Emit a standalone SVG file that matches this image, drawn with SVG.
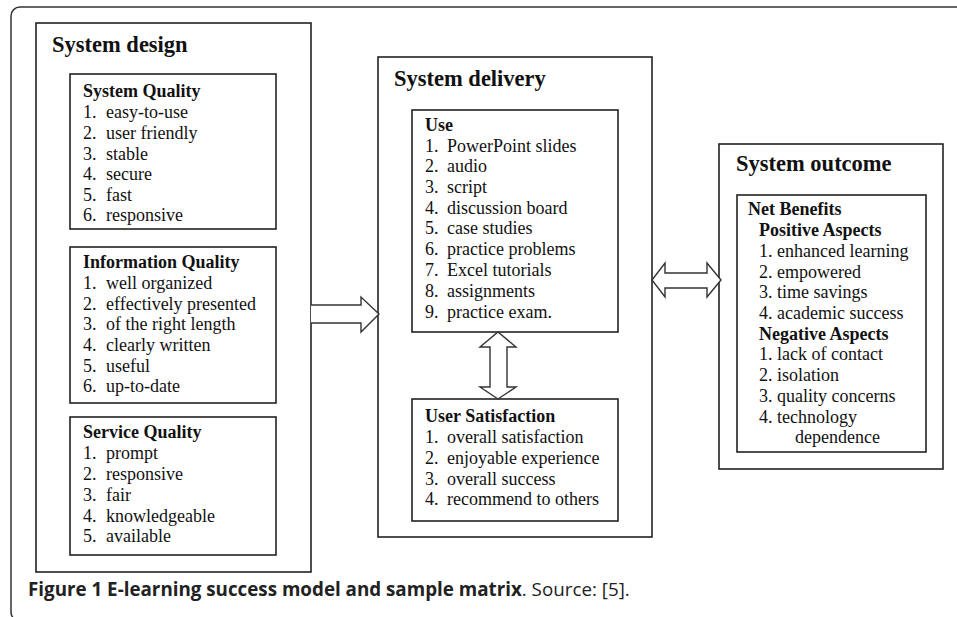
<svg xmlns="http://www.w3.org/2000/svg" width="957" height="617" viewBox="0 0 957 617">
<style>
.box{fill:#fff;stroke:#222;stroke-width:1.6}
.arr{fill:#fff;stroke:#333;stroke-width:1.4;stroke-linejoin:miter}
.t{font-family:"Liberation Serif","Tinos","Times New Roman","DejaVu Serif",serif;font-size:18px;font-weight:400;font-style:normal;fill:#111}
.h{font-family:"Liberation Serif","Tinos","Times New Roman",serif;font-size:18px;font-weight:bold;fill:#111}
.ti{font-family:"Liberation Serif","Tinos","Times New Roman",serif;font-size:22.5px;font-weight:bold;fill:#111}
.cap{font-family:"Open Sans","Noto Sans",sans-serif;font-size:18.8px;fill:#222}
</style>
<rect x="11" y="7" width="960" height="614" rx="9" fill="#fff" stroke="#333" stroke-width="1.5"/>

<g id="system-design">
<rect class="box" x="36" y="23" width="275" height="549"/>
<text class="ti" x="52" y="52">System design</text>
</g>

<g id="system-quality">
<rect class="box" x="70" y="74" width="206" height="155"/>
<text class="h" x="83" y="97">System Quality</text>
<text class="t" x="83" y="118">1.</text><text class="t" x="106" y="118">easy-to-use</text>
<text class="t" x="83" y="139">2.</text><text class="t" x="106" y="139">user friendly</text>
<text class="t" x="83" y="160">3.</text><text class="t" x="106" y="160">stable</text>
<text class="t" x="83" y="180">4.</text><text class="t" x="106" y="180">secure</text>
<text class="t" x="83" y="201">5.</text><text class="t" x="106" y="201">fast</text>
<text class="t" x="83" y="221">6.</text><text class="t" x="106" y="221">responsive</text>
</g>

<g id="information-quality">
<rect class="box" x="70" y="247" width="206" height="156"/>
<text class="h" x="83" y="268">Information Quality</text>
<text class="t" x="83" y="289">1.</text><text class="t" x="106" y="289">well organized</text>
<text class="t" x="83" y="310">2.</text><text class="t" x="106" y="310">effectively presented</text>
<text class="t" x="83" y="330">3.</text><text class="t" x="106" y="330">of the right length</text>
<text class="t" x="83" y="351">4.</text><text class="t" x="106" y="351">clearly written</text>
<text class="t" x="83" y="372">5.</text><text class="t" x="106" y="372">useful</text>
<text class="t" x="83" y="392">6.</text><text class="t" x="106" y="392">up-to-date</text>
</g>

<g id="service-quality">
<rect class="box" x="70" y="417" width="206" height="138"/>
<text class="h" x="83" y="438">Service Quality</text>
<text class="t" x="83" y="459">1.</text><text class="t" x="106" y="459">prompt</text>
<text class="t" x="83" y="480">2.</text><text class="t" x="106" y="480">responsive</text>
<text class="t" x="83" y="501">3.</text><text class="t" x="106" y="501">fair</text>
<text class="t" x="83" y="522">4.</text><text class="t" x="106" y="522">knowledgeable</text>
<text class="t" x="83" y="542">5.</text><text class="t" x="106" y="542">available</text>
</g>

<g id="system-delivery">
<rect class="box" x="378" y="57" width="274" height="480"/>
<text class="ti" x="394" y="86">System delivery</text>
</g>

<g id="use">
<rect class="box" x="412" y="110" width="206" height="222"/>
<text class="h" x="425" y="131">Use</text>
<text class="t" x="425" y="152">1.</text><text class="t" x="447" y="152">PowerPoint slides</text>
<text class="t" x="425" y="172">2.</text><text class="t" x="447" y="172">audio</text>
<text class="t" x="425" y="193">3.</text><text class="t" x="447" y="193">script</text>
<text class="t" x="425" y="214">4.</text><text class="t" x="447" y="214">discussion board</text>
<text class="t" x="425" y="234">5.</text><text class="t" x="447" y="234">case studies</text>
<text class="t" x="425" y="255">6.</text><text class="t" x="447" y="255">practice problems</text>
<text class="t" x="425" y="276">7.</text><text class="t" x="447" y="276">Excel tutorials</text>
<text class="t" x="425" y="297">8.</text><text class="t" x="447" y="297">assignments</text>
<text class="t" x="425" y="318">9.</text><text class="t" x="447" y="318">practice exam.</text>
</g>

<g id="user-satisfaction">
<rect class="box" x="412" y="399" width="206" height="122"/>
<text class="h" x="425" y="422">User Satisfaction</text>
<text class="t" x="425" y="443">1.</text><text class="t" x="447" y="443">overall satisfaction</text>
<text class="t" x="425" y="464">2.</text><text class="t" x="447" y="464">enjoyable experience</text>
<text class="t" x="425" y="485">3.</text><text class="t" x="447" y="485">overall success</text>
<text class="t" x="425" y="505">4.</text><text class="t" x="447" y="505">recommend to others</text>
</g>

<g id="system-outcome">
<rect class="box" x="719" y="144" width="224" height="325"/>
<text class="ti" x="736" y="171">System outcome</text>
</g>

<g id="net-benefits">
<rect class="box" x="737" y="195" width="189" height="257"/>
<text class="h" x="748" y="215">Net Benefits</text>
<text class="h" x="759" y="236">Positive Aspects</text>
<text class="t" x="759" y="257">1.</text><text class="t" x="777" y="257">enhanced learning</text>
<text class="t" x="759" y="278">2.</text><text class="t" x="777" y="278">empowered</text>
<text class="t" x="759" y="298">3.</text><text class="t" x="777" y="298">time savings</text>
<text class="t" x="759" y="319">4.</text><text class="t" x="777" y="319">academic success</text>
<text class="h" x="759" y="340">Negative Aspects</text>
<text class="t" x="759" y="360">1.</text><text class="t" x="777" y="360">lack of contact</text>
<text class="t" x="759" y="381">2.</text><text class="t" x="777" y="381">isolation</text>
<text class="t" x="759" y="402">3.</text><text class="t" x="777" y="402">quality concerns</text>
<text class="t" x="759" y="423">4.</text><text class="t" x="777" y="423">technology</text>
<text class="t" x="795" y="443">dependence</text>
</g>

<g id="connectors">
<path class="arr" d="M311,305 H361 V297 L379,314 L361,332 V323 H311"/>
<path class="arr" d="M652,280 L665,263 V273 H707 V263 L721,280 L707,297 V288 H665 V297 Z"/>
<path class="arr" d="M498,332 L516,347 H507 V387 H516 L498,399 L480,387 H490 V347 H480 Z"/>
</g>

<text class="cap" x="28" y="596"><tspan font-weight="bold">Figure 1 E-learning success model and sample matrix</tspan>. Source: [5].</text>
</svg>
